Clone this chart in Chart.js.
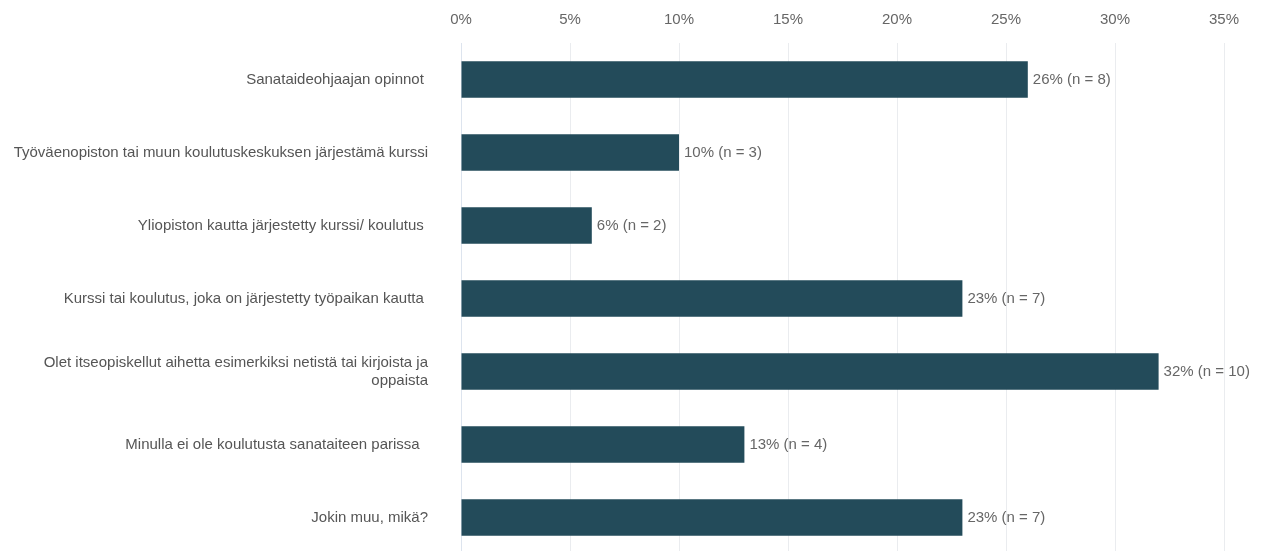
<!DOCTYPE html>
<html>
<head>
<meta charset="utf-8">
<script src="https://cdn.jsdelivr.net/npm/chart.js@4"></script>
<style>
  html, body { margin: 0; padding: 0; background: #fff; overflow: hidden; height: 551px; }
  canvas { display: block; }
</style>
</head>
<body>
<canvas id="koulutusChart" width="1261" height="554"></canvas>
<script>
const categories = [
    'Sanataideohjaajan opinnot ',
    'Työväenopiston tai muun koulutuskeskuksen järjestämä kurssi',
    'Yliopiston kautta järjestetty kurssi/ koulutus ',
    'Kurssi tai koulutus, joka on järjestetty työpaikan kautta ',
    ['Olet itseopiskellut aihetta esimerkiksi netistä tai kirjoista ja', 'oppaista'],
    'Minulla ei ole koulutusta sanataiteen parissa  ',
    'Jokin muu, mikä?'
];
const percentages = [26, 10, 6, 23, 32, 13, 23];
const counts = [8, 3, 2, 7, 10, 4, 7];
const tickValues = [0, 5, 10, 15, 20, 25, 30, 35];

const fontFamily = '"Liberation Sans", Arial, sans-serif';

// draws "26% (n = 8)" next to each bar end
const barLabels = {
    id: 'barLabels',
    afterDatasetsDraw(chart) {
        const ctx = chart.ctx;
        const meta = chart.getDatasetMeta(0);
        ctx.save();
        ctx.font = '15px ' + fontFamily;
        ctx.fillStyle = '#666';
        ctx.textAlign = 'left';
        ctx.textBaseline = 'middle';
        meta.data.forEach(function(bar, i) {
            ctx.fillText(percentages[i] + '% (n = ' + counts[i] + ')', bar.x + 5, bar.y);
        });
        ctx.restore();
    }
};

document.addEventListener('DOMContentLoaded', function() {
    const ctx = document.getElementById('koulutusChart').getContext('2d');
    new Chart(ctx, {
        type: 'bar',
        data: {
            labels: categories,
            datasets: [{
                data: percentages,
                backgroundColor: '#234b5a',
                categoryPercentage: 1,
                barPercentage: 0.5
            }]
        },
        options: {
            indexAxis: 'y',
            responsive: false,
            animation: false,
            layout: { padding: { top: 0, right: 37, bottom: 0, left: 0 } },
            plugins: {
                legend: { display: false },
                tooltip: { enabled: false }
            },
            scales: {
                x: {
                    position: 'top',
                    min: 0,
                    max: 35,
                    afterBuildTicks: function(scale) {
                        scale.ticks = tickValues.map(v => ({ value: v }));
                    },
                    afterFit: function(scale) { scale.height = 43; },
                    ticks: {
                        padding: 14,
                        color: '#666',
                        font: { size: 15, family: fontFamily },
                        callback: v => v + '%'
                    },
                    grid: { color: '#eaecef', drawTicks: false },
                    border: { display: false }
                },
                y: {
                    afterFit: function(scale) {
                        scale.width = 461;
                        scale.paddingTop = 0;
                        scale.paddingBottom = 0;
                    },
                    ticks: {
                        padding: 33,
                        color: '#555',
                        font: { size: 15, family: fontFamily }
                    },
                    grid: { display: false, drawTicks: false },
                    border: { display: true, color: '#dde4ee' }
                }
            }
        },
        plugins: [barLabels]
    });
});
</script>
</body>
</html>
